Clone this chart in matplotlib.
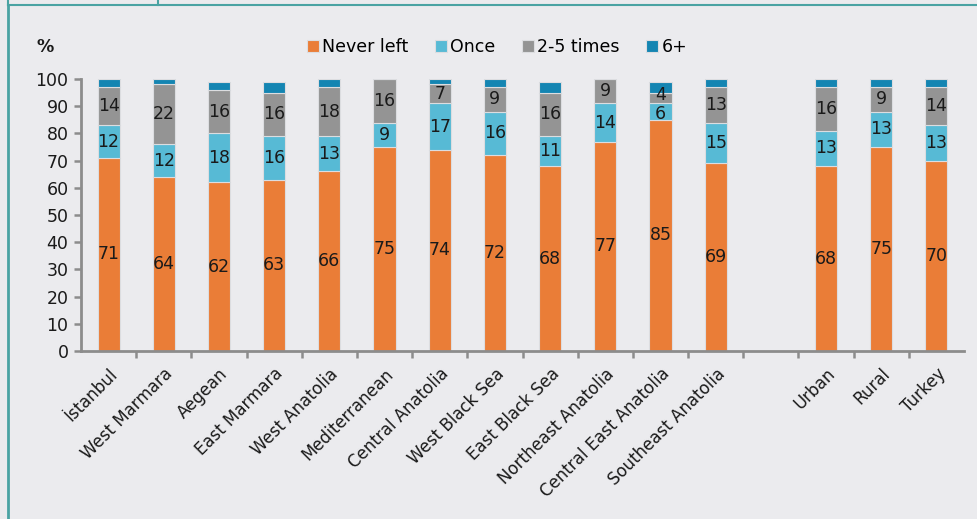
import numpy as np
import matplotlib.pyplot as plt
from matplotlib.lines import Line2D

plt.rcParams['font.family'] = ['DejaVu Sans']

regions = ['İstanbul', 'West Marmara', 'Aegean', 'East Marmara', 'West Anatolia',
           'Mediterranean', 'Central Anatolia', 'West Black Sea', 'East Black Sea',
           'Northeast Anatolia', 'Central East Anatolia', 'Southeast Anatolia',
           'Urban', 'Rural', 'Turkey']
never_left = [71, 64, 62, 63, 66, 75, 74, 72, 68, 77, 85, 69, 68, 75, 70]
once = [12, 12, 18, 16, 13, 9, 17, 16, 11, 14, 6, 15, 13, 13, 13]
two_five = [14, 22, 16, 16, 18, 16, 7, 9, 16, 9, 4, 13, 16, 9, 14]
six_plus = [3, 2, 3, 4, 3, 0, 2, 3, 4, 0, 4, 3, 3, 3, 3]

series = [('Never left', never_left, '#ea7d37'),
          ('Once', once, '#57bad5'),
          ('2-5 times', two_five, '#949494'),
          ('6+', six_plus, '#1485b2')]

# gap between the regions and the summary bars
x = np.array(list(range(12)) + [13, 14, 15])

bg = '#ebebee'
fig = plt.figure(figsize=(9.77, 5.19), dpi=100, facecolor=bg)
ax = fig.add_axes([81/977, 168/519, 883/977, 272/519], facecolor=bg)

bottom = np.zeros(len(x))
for name, vals, col in series:
    vals = np.array(vals, dtype=float)
    ax.bar(x, vals, 0.4, bottom=bottom, color=col, label=name,
           edgecolor='#dcdde0', linewidth=0.8)
    if name != '6+':
        for xi, b, v in zip(x, bottom, vals):
            if v > 0:
                y = b + v/2
                # the two thin segments of Central East Anatolia sit close together
                if v < 5:
                    y += 1.2
                elif v < 7:
                    y -= 0.8
                ax.text(xi, y, f'{int(v)}', ha='center', va='center',
                        fontsize=12.5, color='#1a1a1a')
    bottom += vals

ax.set_xlim(-0.5, 15.5)
ax.set_ylim(0, 100)
ax.set_yticks(range(0, 101, 10))
ax.tick_params(axis='y', labelsize=12.5, colors='#8c8c8c', length=5, width=1.8,
               labelcolor='#1a1a1a', pad=4)
ax.set_xticks(x)
ax.set_xticklabels(regions, rotation=45, ha='right', rotation_mode='anchor',
                   fontsize=12, color='#1a1a1a')
ax.tick_params(axis='x', length=0, pad=10)
# boundary ticks on the x axis
ax.set_xticks(np.arange(0.5, 15.5, 1), minor=True)
ax.tick_params(axis='x', which='minor', length=5, width=1.8, colors='#8c8c8c')
for s in ['top', 'right']:
    ax.spines[s].set_visible(False)
for s in ['left', 'bottom']:
    ax.spines[s].set_color('#8c8c8c')
    ax.spines[s].set_linewidth(2)

fig.text(45/977, 1 - 47/519, '%', fontsize=12.5, ha='center', va='center',
         weight='bold', color='#1a1a1a')
fig.legend(loc='center', bbox_to_anchor=(497/977, 1 - 47/519), ncol=4,
           frameon=False, fontsize=12.5, handlelength=0.7, handleheight=0.7,
           handletextpad=0.2, columnspacing=1.5)

# outer frame lines
teal = '#4aa3a3'
fig.add_artist(Line2D([8/977, 8/977], [0, 1 - 5/519], color=teal, lw=2))
fig.add_artist(Line2D([8/977, 1], [1 - 5/519, 1 - 5/519], color=teal, lw=1.5))
fig.add_artist(Line2D([158/977, 158/977], [1 - 5/519, 1], color=teal, lw=1.5))
fig.add_artist(Line2D([8/977, 8/977], [1 - 5/519, 1], color=teal, lw=1.5))

fig.savefig('out.png', dpi=100, facecolor=bg)
